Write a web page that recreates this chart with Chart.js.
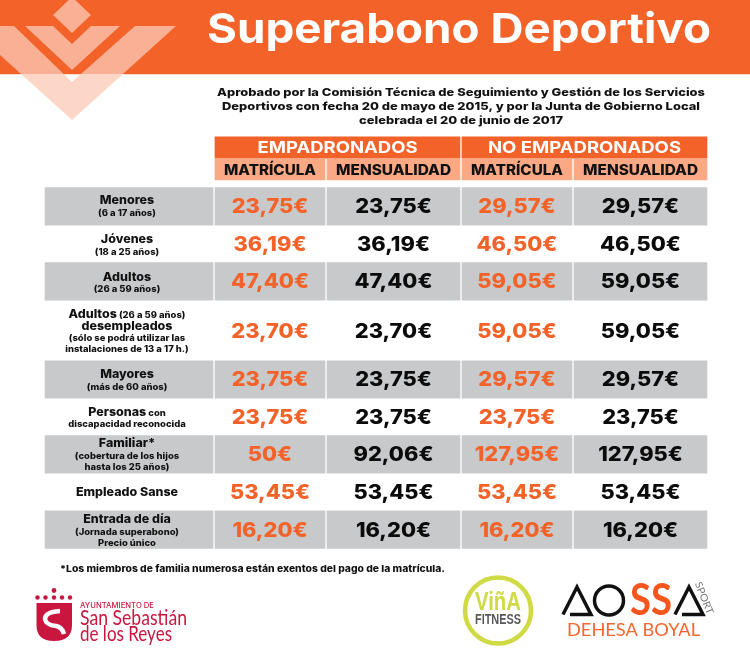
<!DOCTYPE html>
<html>
<head>
<meta charset="utf-8">
<title>Superabono Deportivo</title>
<script src="https://cdn.jsdelivr.net/npm/chart.js@4"></script>
<style>
  html, body { margin: 0; padding: 0; background: #fff; }
  canvas { display: block; }
</style>
</head>
<body>
<canvas id="tarifas" width="750" height="650"></canvas>
<script>
// table content
const rowLabels = [
    [['Menores', 'm'], ['(6 a 17 años)', 's']],
    [['Jóvenes', 'm'], ['(18 a 25 años)', 's']],
    [['Adultos', 'm'], ['(26 a 59 años)', 's']],
    [['Adultos', 'm', ' (26 a 59 años)'], ['desempleados', 'm'], ['(sólo se podrá utilizar las', 's'], ['instalaciones de 13 a 17 h.)', 's']],
    [['Mayores', 'm'], ['(más de 60 años)', 's']],
    [['Personas', 'm', ' con'], ['discapacidad reconocida', 's']],
    [['Familiar*', 'm'], ['(cobertura de los hijos', 's'], ['hasta los 25 años)', 's']],
    [['Empleado Sanse', 'm']],
    [['Entrada de día', 'm'], ['(Jornada superabono)', 's'], ['Precio único', 's']]
];
const empMatricula = [23.75, 36.19, 47.40, 23.70, 23.75, 23.75, 50, 53.45, 16.20];
const empMensualidad = [23.75, 36.19, 47.40, 23.70, 23.75, 23.75, 92.06, 53.45, 16.20];
const noEmpMatricula = [29.57, 46.50, 59.05, 59.05, 29.57, 23.75, 127.95, 53.45, 16.20];
const noEmpMensualidad = [29.57, 46.50, 59.05, 59.05, 29.57, 23.75, 127.95, 53.45, 16.20];
const groupHeaders = ['EMPADRONADOS', 'NO EMPADRONADOS'];
const colHeaders = ['MATRÍCULA', 'MENSUALIDAD', 'MATRÍCULA', 'MENSUALIDAD'];
const introLines = [
    'Aprobado por la Comisión Técnica de Seguimiento y Gestión de los Servicios',
    'Deportivos con fecha 20 de mayo de 2015, y por la Junta de Gobierno Local',
    'celebrada el 20 de junio de 2017'
];
const titleText = 'Superabono Deportivo';
const footnote = '*Los miembros de familia numerosa están exentos del pago de la matrícula.';

// layout, in page units
const colEdges = [[45, 213], [215, 325], [327, 460], [462, 572], [574, 707]];
const groupEdges = [[215, 460], [462, 707]];
const rowCentres = [206.3, 244, 281.4, 331, 379.5, 417, 454.3, 492, 529.7];
const lineCentres = [
    [200, 212], [239, 251], [277, 288.5], [314, 325.7, 337, 348.5], [374, 386],
    [412, 423.5], [443, 455.5, 466.7], [492], [519, 531, 542.5]
];
const greyRows = [0, 2, 4, 6, 8];

const ORANGE = '#f26229';
const LIGHT_ORANGE = '#fba985';
const GREY = '#c7c9cb';
const FONT = 'Inter, sans-serif';
const LIGHT_FONT = 'Lato, sans-serif';
const LOGO_BOLD = '"Liberation Sans", sans-serif';
const TEXT_DROP = 0.8; // Inter sits a little high on a middle baseline

function bars(label, cells, thickness, color) {
    return { label, data: cells, barThickness: thickness, backgroundColor: color, borderWidth: 0, grouped: false };
}

const greyCells = [];
greyRows.forEach(r => colEdges.forEach(c => greyCells.push({ x: c, y: rowCentres[r] })));

function euro(v) {
    return (Number.isInteger(v) ? String(v) : v.toFixed(2).replace('.', ',')) + '€';
}

const tablePlugin = {
    id: 'tablePlugin',
    afterDatasetsDraw(chart) {
        const ctx = chart.ctx;
        const sx = v => chart.scales.x.getPixelForValue(v);
        const sy = v => chart.scales.y.getPixelForValue(v);

        // opts.stretch widens the glyphs, opts.width fits the string to a width
        function textWidth(str, size, opts = {}) {
            ctx.font = `${opts.weight || 800} ${size}px ${opts.family || FONT}`;
            return ctx.measureText(str).width * (opts.stretch || 1);
        }
        function text(str, x, y, size, color, opts = {}) {
            const raw = textWidth(str, size, { ...opts, stretch: 1 });
            const stretch = opts.width ? opts.width / raw : (opts.stretch || 1);
            ctx.save();
            ctx.translate(sx(x), sy(y));
            ctx.scale(stretch, 1);
            ctx.fillStyle = color;
            ctx.textAlign = opts.align || 'center';
            ctx.textBaseline = 'middle';
            ctx.fillText(str, 0, opts.family ? 0 : TEXT_DROP);
            ctx.restore();
        }
        function poly(points, color) {
            ctx.fillStyle = color;
            ctx.beginPath();
            points.forEach((p, i) => i ? ctx.lineTo(sx(p[0]), sy(p[1])) : ctx.moveTo(sx(p[0]), sy(p[1])));
            ctx.closePath();
            ctx.fill();
        }

        // chevrons
        const outer = [[-32, 26], [14, 26], [72, 82], [135, 26], [176, 26], [72, 120]];
        ctx.save();
        ctx.beginPath();
        ctx.rect(sx(0), sy(74), sx(750), sy(650));
        ctx.clip();
        poly(outer, '#fcd7c8');
        ctx.restore();
        ctx.save();
        ctx.beginPath();
        ctx.rect(sx(0), sy(0), sx(750), sy(74));
        ctx.clip();
        poly(outer, '#fab095');
        ctx.restore();
        poly([[25, 26], [53, 26], [72, 44], [91, 26], [120, 26], [72, 70]], '#fab095');
        poly([[53, 15], [72, -3], [91, 15], [72, 33]], '#fab095');

        text(titleText, 459, 30, 41, '#fff', { weight: 700, width: 504 });
        [488, 478, 204].forEach((w, i) => text(introLines[i], 461, 92 + i * 14, 11, '#111', { width: w }));
        [160, 193].forEach((w, i) => {
            text(groupHeaders[i], (groupEdges[i][0] + groupEdges[i][1]) / 2, 147.5, 16, '#fff', { weight: 700, width: w });
        });
        colHeaders.forEach((h, i) => {
            const c = colEdges[i + 1];
            text(h, (c[0] + c[1]) / 2, 169.5, 14, '#111', { width: i % 2 ? 115 : 92 });
        });

        // row labels
        rowLabels.forEach((lines, r) => {
            lines.forEach((line, i) => {
                const main = line[1] === 'm';
                const size = main ? 12 : 9;
                const stretch = main ? 1.04 : 1.05;
                const y = lineCentres[r][i];
                if (line[2]) {
                    const w1 = textWidth(line[0], size, { stretch });
                    const w2 = textWidth(line[2], 9, { stretch: 1.05 });
                    const left = 127 - (w1 + w2) / 2;
                    text(line[0], left, y, size, '#111', { align: 'left', stretch });
                    text(line[2], left + w1, y, 9, '#111', { align: 'left', stretch: 1.05 });
                } else {
                    text(line[0], 127, y, size, '#111', { stretch });
                }
            });
        });

        // prices
        [empMatricula, empMensualidad, noEmpMatricula, noEmpMensualidad].forEach((serie, s) => {
            const c = colEdges[s + 1];
            serie.forEach((v, r) => {
                text(euro(v), (c[0] + c[1]) / 2, rowCentres[r], 20, s % 2 ? '#0b0b0b' : ORANGE, { stretch: 1.09 });
            });
        });

        text(footnote, 60, 568.5, 9.5, '#111', { align: 'left', width: 385 });

        // logo: ayuntamiento
        const RED = '#c9163f';
        [[54, 590.5], [37.5, 597.5], [45.5, 597.5], [54, 597.5], [62, 597.5], [70, 597.5]].forEach(p => {
            ctx.fillStyle = RED;
            ctx.beginPath();
            ctx.arc(sx(p[0]), sy(p[1]), p[1] < 595 ? 2.4 : 2.2, 0, Math.PI * 2);
            ctx.fill();
        });
        ctx.fillStyle = RED;
        ctx.beginPath();
        ctx.moveTo(sx(36.5), sy(603));
        ctx.lineTo(sx(72), sy(603));
        ctx.lineTo(sx(72), sy(625));
        ctx.quadraticCurveTo(sx(72), sy(641), sx(54), sy(641));
        ctx.quadraticCurveTo(sx(36.5), sy(641), sx(36.5), sy(625));
        ctx.closePath();
        ctx.fill();
        ctx.strokeStyle = '#fff';
        ctx.lineWidth = 4.5;
        ctx.beginPath();
        ctx.moveTo(sx(60), sy(611));
        ctx.quadraticCurveTo(sx(45), sy(612), sx(45), sy(619));
        ctx.quadraticCurveTo(sx(46), sy(625), sx(56), sy(626));
        ctx.quadraticCurveTo(sx(62), sy(627), sx(64), sy(634));
        ctx.stroke();
        text('AYUNTAMIENTO DE', 80, 605, 7, RED, { align: 'left', weight: 500, width: 74 });
        text('San Sebastián', 80, 618.5, 21, RED, { align: 'left', weight: 400, family: LIGHT_FONT, width: 107 });
        text('de los Reyes', 80, 634.5, 21, RED, { align: 'left', weight: 400, family: LIGHT_FONT, width: 92 });

        // logo: viña fitness
        ctx.strokeStyle = '#cfda45';
        ctx.lineWidth = 4.5;
        ctx.beginPath();
        ctx.arc(sx(498), sy(610.5), 33, 0, Math.PI * 2);
        ctx.stroke();
        text('ViñA', 498, 603, 26, '#cfda45', { weight: 700, family: LOGO_BOLD, width: 46 });
        text('FITNESS', 498, 620.5, 14, '#58595b', { weight: 700, family: LOGO_BOLD, width: 46 });

        // logo: aossa
        ctx.strokeStyle = '#111';
        ctx.lineWidth = 3.5;
        [563, 675].forEach(left => {
            ctx.beginPath();
            ctx.moveTo(sx(left), sy(614.5));
            ctx.lineTo(sx(left + 14), sy(587));
            ctx.lineTo(sx(left + 28), sy(614.5));
            ctx.lineTo(sx(left + 7), sy(614.5));
            ctx.stroke();
        });
        ctx.beginPath();
        ctx.arc(sx(609), sy(600.5), 14.5, 0, Math.PI * 2);
        ctx.stroke();
        text('SS', 651, 601, 44, '#f5561e', { weight: 700, family: LIGHT_FONT, width: 42 });
        ctx.save();
        ctx.translate(sx(704), sy(598));
        ctx.rotate(68 * Math.PI / 180);
        text('SPORT', 0, 0, 10, '#777', { weight: 400, family: LIGHT_FONT, width: 34 });
        ctx.restore();
        text('DEHESA BOYAL', 633.5, 630, 17.5, '#f5662e', { weight: 400, family: LIGHT_FONT, width: 133 });
    }
};

new Chart(document.getElementById('tarifas'), {
    type: 'bar',
    data: {
        datasets: [
            bars('banner', [{ x: [0, 750], y: 37 }], 74, ORANGE),
            bars('grupos', groupEdges.map(g => ({ x: g, y: 147.5 })), 21.5, ORANGE),
            bars('columnas', colEdges.slice(1).map(c => ({ x: c, y: 169.5 })), 21, LIGHT_ORANGE),
            bars('filas', greyCells, 37.5, GREY)
        ]
    },
    options: {
        indexAxis: 'y',
        responsive: false,
        animation: false,
        layout: { padding: 0 },
        plugins: { legend: { display: false }, tooltip: { enabled: false } },
        scales: {
            x: { type: 'linear', min: 0, max: 750, display: false },
            y: { type: 'linear', min: 0, max: 650, reverse: true, offset: false, display: false }
        }
    },
    plugins: [tablePlugin]
});
</script>
</body>
</html>
